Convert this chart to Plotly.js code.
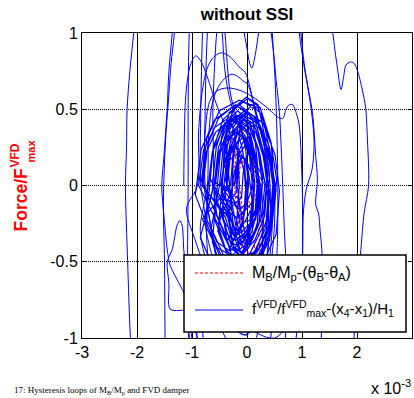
<!DOCTYPE html>
<html><head><meta charset="utf-8">
<script src="https://cdn.plot.ly/plotly-3.0.1.min.js"></script>
<style>html,body{margin:0;padding:0;background:#fff;} #chart{width:414px;height:398px;}</style>
</head><body><div id="chart"></div>
<script>
// x values are drift (x-axis shown in units of 1e-3), y values are normalized force
const xTickVals = [-3, -2, -1, 0, 1, 2, 3];
const xTickText = ['-3', '-2', '-1', '0', '1', '2', '3'];
const yTickVals = [-1, -0.5, 0, 0.5, 1];
const yTickText = ['-1', '-0.5', '0', '0.5', '1'];

// red dashed: MB/Mp vs (thetaB - thetaA)
const redX = [0.00,0.10,0.20,0.25,0.22,0.12,-0.05,-0.20,-0.28,-0.25,-0.15,0.00,0.15,0.28,0.30,0.22,0.08,-0.10,-0.22,-0.20,-0.10,0.05,0.18,0.25,0.20,0.10,-0.05,-0.15,-0.10,0.00];
const redY = [0.00,-0.30,-0.60,-0.80,-0.90,-0.70,-0.40,0.00,0.30,0.42,0.45,0.35,0.10,-0.30,-0.65,-0.85,-0.75,-0.40,-0.05,0.25,0.38,0.20,-0.15,-0.50,-0.72,-0.60,-0.30,0.05,0.20,0.00];

// blue: dense central loops
const coreLoopsX = [
 -0.23,-0.19,-0.15,-0.04,0.05,0.10,0.14,0.09,0.05,-0.06,-0.13,-0.22,
 -0.38,-0.35,-0.23,-0.11,0.05,0.13,0.19,0.15,0.03,-0.09,-0.25,-0.33,
 -0.47,-0.41,-0.31,-0.11,0.06,0.17,0.24,0.19,0.04,-0.13,-0.28,-0.43,
 -0.45,-0.40,-0.24,-0.06,0.16,0.28,0.36,0.30,0.14,-0.04,-0.26,-0.39,
 -0.63,-0.56,-0.42,-0.17,0.05,0.20,0.28,0.22,0.03,-0.19,-0.39,-0.58,
 -0.60,-0.54,-0.34,-0.11,0.16,0.32,0.41,0.34,0.14,-0.09,-0.36,-0.52,
 -0.44,-0.37,-0.24,-0.01,0.20,0.33,0.41,0.35,0.18,-0.03,-0.22,-0.39,
 -0.80,-0.71,-0.52,-0.21,0.08,0.27,0.37,0.29,0.06,-0.23,-0.50,-0.73,
 -0.72,-0.63,-0.42,-0.09,0.22,0.42,0.53,0.44,0.20,-0.11,-0.40,-0.65,
 -0.50,-0.42,-0.26,0.01,0.24,0.44,0.49,0.42,0.26,-0.01,-0.24,-0.44,
 -0.83,-0.73,-0.50,-0.14,0.20,0.43,0.54,0.45,0.18,-0.16,-0.48,-0.75,
 -0.94,-0.83,-0.59,-0.21,0.15,0.39,0.51,0.41,0.13,-0.23,-0.57,-0.85,
 -0.60,-0.52,-0.34,-0.04,0.23,0.41,0.51,0.43,0.21,-0.06,-0.31,-0.53,
 -0.88,-0.79,-0.59,-0.27,0.03,0.23,0.33,0.25,0.01,-0.29,-0.57,-0.81,
 -0.37,-0.30,-0.17,0.06,0.27,0.40,0.48,0.42,0.25,0.04,-0.15,-0.32,
 -0.42,-0.37,-0.27,-0.09,0.07,0.17,0.23,0.18,0.05,-0.11,-0.25,-0.38,
 -0.68,-0.61,-0.45,-0.19,0.05,0.21,0.29,0.22,0.03,-0.21,-0.43,-0.62,
 -0.30,-0.24,-0.12,0.09,0.28,0.40,0.47,0.41,0.26,0.07,-0.10,-0.25,
 -0.82,-0.74,-0.57,-0.29,-0.03,0.14,0.23,0.16,-0.05,-0.31,-0.55,-0.76,
 -0.70,-0.62,-0.44,-0.14,0.13,0.31,0.41,0.33,0.12,-0.16,-0.41,-0.63,
 -0.53,-0.46,-0.32,-0.07,0.15,0.30,0.38,0.32,0.14,-0.09,-0.29,-0.48,
 -0.60,-0.54,-0.41,-0.19,0.01,0.14,0.21,0.15,-0.01,-0.21,-0.39,-0.55,
 -0.60,-0.51,-0.31,0.01,0.29,0.51,0.59,0.53,0.31,-0.01,-0.29,-0.53,
 -0.37,-0.33,-0.25,-0.11,0.01,0.09,0.14,0.10,0.00,-0.13,-0.24,-0.34
];
const coreLoopsY = [
 0.00,0.14,0.20,0.26,0.21,0.13,0.01,-0.12,-0.23,-0.24,-0.21,-0.11,
 0.02,0.21,0.31,0.38,0.33,0.18,0.03,-0.16,-0.27,-0.34,-0.29,-0.14,
 -0.03,0.19,0.32,0.40,0.34,0.17,-0.02,-0.25,-0.38,-0.46,-0.40,-0.23,
 0.03,0.24,0.36,0.44,0.37,0.24,0.02,-0.18,-0.31,-0.38,-0.32,-0.16,
 0.00,0.25,0.40,0.49,0.42,0.23,0.01,-0.25,-0.41,-0.49,-0.42,-0.23,
 -0.05,0.18,0.33,0.41,0.35,0.16,-0.04,-0.28,-0.43,-0.51,-0.45,-0.27,
 0.05,0.33,0.51,0.58,0.53,0.31,0.06,-0.23,-0.42,-0.51,-0.43,-0.21,
 0.00,0.27,0.44,0.53,0.45,0.25,0.01,-0.27,-0.44,-0.53,-0.46,-0.25,
 -0.04,0.22,0.38,0.47,0.40,0.20,-0.03,-0.30,-0.46,-0.55,-0.48,-0.28,
 0.00,0.30,0.49,0.57,0.51,0.28,0.01,-0.30,-0.49,-0.59,-0.50,-0.28,
 0.03,0.31,0.49,0.56,0.51,0.29,0.04,-0.25,-0.44,-0.53,-0.45,-0.24,
 -0.06,0.24,0.43,0.53,0.45,0.22,-0.05,-0.36,-0.55,-0.65,-0.57,-0.34,
 0.00,0.25,0.41,0.49,0.40,0.25,0.00,-0.23,-0.42,-0.47,-0.41,-0.25,
 0.00,0.23,0.38,0.46,0.39,0.21,0.01,-0.23,-0.38,-0.46,-0.40,-0.22,
 -0.03,0.20,0.34,0.42,0.36,0.18,-0.02,-0.26,-0.40,-0.48,-0.42,-0.24,
 0.00,0.16,0.25,0.31,0.26,0.14,0.01,-0.16,-0.25,-0.31,-0.27,-0.14,
 0.05,0.26,0.39,0.46,0.40,0.24,0.06,-0.16,-0.29,-0.36,-0.30,-0.14,
 0.00,0.27,0.44,0.53,0.46,0.25,0.01,-0.27,-0.44,-0.53,-0.46,-0.25,
 0.00,0.22,0.35,0.43,0.37,0.20,0.01,-0.22,-0.36,-0.43,-0.37,-0.20,
 -0.08,0.23,0.43,0.53,0.45,0.21,-0.07,-0.39,-0.59,-0.69,-0.61,-0.37,
 0.06,0.32,0.48,0.55,0.50,0.30,0.07,-0.20,-0.36,-0.45,-0.38,-0.18,
 -0.02,0.17,0.28,0.35,0.30,0.15,-0.01,-0.21,-0.32,-0.39,-0.34,-0.19,
 -0.05,0.22,0.39,0.48,0.41,0.20,-0.04,-0.32,-0.49,-0.58,-0.51,-0.30,
 0.00,0.23,0.38,0.46,0.40,0.22,0.01,-0.23,-0.38,-0.46,-0.40,-0.22
];

// blue: the smallest loops in the very centre
const innerLoopsX = [
 -0.27,-0.25,-0.22,-0.14,-0.09,-0.05,-0.02,-0.05,-0.08,-0.16,-0.20,-0.26,
 -0.40,-0.36,-0.31,-0.19,-0.11,-0.02,0.01,-0.03,-0.09,-0.21,-0.29,-0.38,
 -0.20,-0.17,-0.13,-0.04,0.03,0.07,0.11,0.08,0.02,-0.06,-0.12,-0.19,
 -0.47,-0.43,-0.37,-0.24,-0.15,-0.05,-0.02,-0.07,-0.13,-0.26,-0.35,-0.45,
 -0.20,-0.16,-0.11,0.01,0.11,0.16,0.21,0.18,0.09,-0.01,-0.09,-0.18,
 -0.48,-0.43,-0.34,-0.17,-0.04,0.07,0.13,0.09,-0.02,-0.19,-0.32,-0.45,
 -0.28,-0.25,-0.20,-0.09,0.00,0.05,0.09,0.06,-0.02,-0.11,-0.18,-0.26,
 -0.34,-0.30,-0.24,-0.11,-0.02,0.06,0.11,0.08,0.00,-0.13,-0.22,-0.32,
 -0.45,-0.42,-0.38,-0.29,-0.23,-0.16,-0.14,-0.18,-0.22,-0.31,-0.37,-0.44,
 -0.10,-0.07,-0.03,0.06,0.13,0.17,0.21,0.19,0.12,0.04,-0.02,-0.09,
 -0.18,-0.16,-0.14,-0.07,-0.03,0.01,0.03,0.00,-0.02,-0.09,-0.12,-0.17,
 -0.57,-0.51,-0.40,-0.21,-0.05,0.07,0.14,0.09,-0.06,-0.23,-0.38,-0.53
];
const innerLoopsY = [
 0.00,0.16,0.25,0.31,0.25,0.16,0.01,-0.16,-0.25,-0.31,-0.27,-0.14,
 0.05,0.25,0.37,0.44,0.38,0.23,0.06,-0.15,-0.27,-0.34,-0.28,-0.13,
 -0.05,0.13,0.24,0.31,0.25,0.12,-0.04,-0.23,-0.34,-0.41,-0.36,-0.22,
 -0.05,0.11,0.20,0.26,0.22,0.09,-0.04,-0.21,-0.30,-0.36,-0.32,-0.19,
 0.05,0.27,0.40,0.48,0.42,0.25,0.06,-0.17,-0.30,-0.38,-0.32,-0.15,
 0.00,0.11,0.16,0.21,0.18,0.09,0.01,-0.11,-0.16,-0.21,-0.18,-0.09,
 -0.10,0.05,0.13,0.19,0.15,0.03,-0.09,-0.25,-0.33,-0.39,-0.35,-0.23,
 0.10,0.23,0.31,0.36,0.32,0.21,0.11,-0.03,-0.11,-0.16,-0.12,-0.02,
 0.00,0.21,0.34,0.41,0.35,0.19,0.01,-0.21,-0.34,-0.41,-0.35,-0.19,
 -0.08,0.08,0.17,0.23,0.19,0.06,-0.07,-0.24,-0.33,-0.39,-0.35,-0.22,
 0.00,0.10,0.15,0.19,0.16,0.08,0.01,-0.10,-0.15,-0.19,-0.16,-0.08,
 0.02,0.19,0.29,0.35,0.30,0.17,0.03,-0.15,-0.25,-0.31,-0.26,-0.13
];

// blue: skewed loops with visible peaks
const skewLoopsX = [
 -1.15,-1.14,-1.12,-1.08,-1.02,-0.93,-0.83,-0.75,-0.70,-0.62,-0.50,-0.30,0.00,0.30,0.45,0.42,0.30,0.10,-0.15,-0.45,-0.75,-0.95,-1.10,
 -0.90,-0.88,-0.82,-0.74,-0.67,-0.58,-0.47,-0.33,-0.22,-0.15,-0.03,0.05,0.15,0.30,0.48,0.50,0.40,0.20,-0.05,-0.35,-0.65,-0.85,
 -0.72,-0.70,-0.65,-0.60,-0.50,-0.38,-0.27,-0.15,-0.05,0.00,0.08,0.20,0.35,0.42,0.40,0.28,0.05,-0.25,-0.50,-0.66,
 -0.78,-0.76,-0.68,-0.55,-0.35,-0.10,0.15,0.40,0.55,0.65,0.71,0.77,0.83,0.90,0.95,0.99,1.01,1.01,0.97,0.80,0.50,0.10,-0.30,-0.60,-0.75
];
const skewLoopsY = [
 0.00,0.30,0.55,0.70,0.80,0.85,0.81,0.74,0.69,0.60,0.48,0.33,0.15,0.02,-0.15,-0.45,-0.75,-0.92,-0.95,-0.80,-0.55,-0.35,-0.15,
 0.00,0.35,0.60,0.75,0.81,0.85,0.87,0.85,0.81,0.78,0.74,0.65,0.48,0.28,0.05,-0.25,-0.60,-0.88,-0.98,-0.88,-0.60,-0.30,
 0.00,0.30,0.50,0.58,0.66,0.71,0.73,0.71,0.68,0.67,0.60,0.42,0.20,0.00,-0.35,-0.65,-0.85,-0.80,-0.55,-0.25,
 0.00,0.35,0.55,0.62,0.64,0.62,0.57,0.50,0.45,0.44,0.50,0.53,0.53,0.47,0.39,0.15,-0.10,-0.40,-0.65,-0.88,-1.00,-0.95,-0.80,-0.50,-0.25
];

// blue: loops whose tops leave the plot
const archLoopsX = [
 -0.62,-0.62,-0.58,-0.55,-0.47,-0.40,-0.36,-0.30,-0.15,0.05,0.25,0.28,0.20,0.00,-0.30,-0.55,
 -0.76,-0.76,-0.72,-0.62,-0.52,-0.45,-0.40,-0.30,-0.10,0.15,0.35,0.38,0.30,0.10,-0.20,-0.50,-0.70,-0.76,
 -0.84,-0.84,-0.81,-0.75,0.00,0.38,0.46,0.51,0.54,0.56,0.55,0.48,0.40,0.20,-0.70,-0.80,-0.84
];
const archLoopsY = [
 0.00,0.50,0.85,1.00,1.20,1.00,0.80,0.60,0.40,0.20,0.00,-0.40,-0.75,-0.98,-0.90,-0.50,
 0.00,0.50,1.00,1.40,1.35,1.00,0.75,0.55,0.35,0.15,0.00,-0.40,-0.75,-1.05,-1.10,-0.90,-0.50,-0.20,
 0.00,0.50,1.00,1.60,1.90,1.60,1.00,0.70,0.40,0.00,-0.40,-0.80,-1.10,-1.60,-1.60,-1.00,-0.50
];

// blue: the widest loops
const wideLoopsX = [
 -1.00,-1.06,-1.08,-1.07,-1.07,-1.05,-0.95,-0.40,-0.12,-0.05,0.00,0.05,0.09,0.13,0.17,0.23,0.33,0.41,0.44,0.49,0.53,0.59,0.62,0.65,0.68,0.72,0.70,0.60,-0.50,
 -1.47,-1.49,-1.50,-1.52,-1.48,-1.42,-1.38,-1.32,-1.20,-0.30,0.80,0.95,1.03,1.16,1.22,1.18,1.08,1.02,1.01,0.95,0.85,0.50,-0.60,
 -0.90,-1.15,-1.24,-1.40,-1.42,-1.45,-1.36,-1.27,-1.22,-1.18,-1.15,-1.13,-1.10,-1.05,-0.90,
 -0.85,-0.95,-1.13,-1.18,-1.31,-1.40,-1.45,-1.51,-1.55,-1.51,-1.48,-1.45,-1.42,-1.36,-1.25,-0.20,0.85,0.98,1.04,1.12,1.19,1.23,1.25,1.28,1.25,1.30,1.33,1.36,1.38,1.35,1.28,0.00,
 -2.00,-2.12,-2.17,-2.21,-2.19,-2.18,-2.13,-2.06,-1.98,-1.85,0.00,1.35,1.48,1.56,1.64,1.71,1.76,1.80,1.88,1.95,2.02,2.07,2.13,2.16,2.19,2.21,2.13,2.07,1.98,1.90,1.70,0.00
];
const wideLoopsY = [
 -1.60,-1.00,-0.50,0.00,0.50,1.00,1.60,1.80,1.30,1.00,0.90,0.80,0.77,0.82,0.90,1.05,1.25,1.10,1.00,0.85,0.69,0.48,0.26,0.00,-0.30,-0.60,-1.00,-1.60,-1.80,
 -1.60,-1.00,-0.50,-0.10,0.30,0.60,0.80,1.00,1.60,2.00,1.60,1.00,0.80,0.52,0.28,0.10,-0.02,-0.20,-0.50,-0.80,-1.10,-1.60,-1.60,
 -1.00,-0.82,-0.82,-0.81,-0.64,-0.50,-0.42,-0.26,-0.23,-0.26,-0.42,-0.49,-0.70,-1.00,-1.60,
 -1.60,-1.15,-0.72,-0.68,-0.59,-0.52,-0.42,-0.20,0.00,0.19,0.35,0.51,0.75,1.00,1.60,2.00,1.60,1.00,0.80,0.62,0.48,0.30,0.19,0.04,-0.13,-0.18,-0.30,-0.42,-0.70,-1.00,-1.60,-2.00,
 -1.70,-1.00,-0.50,0.00,0.25,0.50,0.75,1.00,1.30,1.60,2.00,1.60,1.25,1.00,0.78,0.63,0.72,0.79,0.81,0.80,0.74,0.67,0.57,0.50,0.30,0.00,-0.18,-0.42,-0.80,-1.20,-1.60,-2.00
];

const redName = 'M<sub>B</sub>/M<sub>p</sub>-(θ<sub>B</sub>-θ<sub>A</sub>)';
const blueName = 'f<sup>VFD</sup>/f<sup>VFD</sup><sub>max</sub>-(x<sub>4</sub>-x<sub>1</sub>)/H<sub>1</sub>';

const centreX = coreLoopsX.concat(innerLoopsX);
const centreY = coreLoopsY.concat(innerLoopsY);
const outerX = skewLoopsX.concat(archLoopsX, wideLoopsX);
const outerY = skewLoopsY.concat(archLoopsY, wideLoopsY);

const FONT = '"Liberation Sans", Arial, Helvetica, sans-serif';
const L = 82, T = 33, W = 330, H = 305;
const px = p => (p - L) / W;
const py = p => (T + H - p) / H;

const traces = [
  {x: redX, y: redY, type: 'scatter', mode: 'lines', name: redName,
   line: {color: '#ff0000', width: 1, dash: '3px,2px'}, hoverinfo: 'skip'},
  {x: centreX, y: centreY, type: 'scatter', mode: 'lines', name: blueName,
   line: {color: '#0000ff', width: 1.2}, hoverinfo: 'skip'},
  {x: outerX, y: outerY, type: 'scatter', mode: 'lines', name: blueName,
   line: {color: '#0000ff', width: 1, shape: 'spline', smoothing: 0.9}, hoverinfo: 'skip'}
];

const axisCommon = {
  ticks: 'inside', ticklen: 4, tickcolor: '#000', tickwidth: 1,
  showline: true, linecolor: '#000', linewidth: 1, mirror: 'ticks',
  showgrid: true, gridcolor: '#000', gridwidth: 1, zeroline: false,
  tickfont: {family: FONT, size: 16, color: '#000'}, fixedrange: true
};

const layout = {
  width: 414, height: 398,
  margin: {l: L, r: 414 - L - W, t: T, b: 398 - T - H, pad: 0},
  paper_bgcolor: '#fff', plot_bgcolor: '#fff',
  showlegend: false,
  title: {text: '<b>without SSI</b>', font: {family: FONT, size: 17, color: '#000'},
          x: 0.5, xref: 'paper', xanchor: 'center', y: 1 - 14 / 398, yref: 'container', yanchor: 'middle'},
  xaxis: Object.assign({}, axisCommon, {range: [-3, 3], tickvals: xTickVals, ticktext: xTickText, griddash: 'solid'}),
  yaxis: Object.assign({}, axisCommon, {range: [-1, 1], tickvals: yTickVals, ticktext: yTickText, griddash: '1px,1px'}),
  shapes: [
    {type: 'rect', xref: 'paper', yref: 'paper', x0: px(184), x1: px(406), y0: py(332), y1: py(255),
     fillcolor: '#fff', line: {color: '#000', width: 1.5}, layer: 'above'},
    {type: 'line', xref: 'paper', yref: 'paper', x0: px(195), x1: px(243), y0: py(273), y1: py(273),
     line: {color: '#ff0000', width: 1, dash: '3px,2px'}, layer: 'above'},
    {type: 'line', xref: 'paper', yref: 'paper', x0: px(195), x1: px(243), y0: py(310), y1: py(310),
     line: {color: '#0000ff', width: 1}, layer: 'above'}
  ],
  annotations: [
    {text: redName, xref: 'paper', yref: 'paper', x: px(250), y: py(273), xanchor: 'left', yanchor: 'middle',
     showarrow: false, font: {family: FONT, size: 16, color: '#000'}},
    {text: blueName, xref: 'paper', yref: 'paper', x: px(250), y: py(308), xanchor: 'left', yanchor: 'middle',
     showarrow: false, font: {family: FONT, size: 15, color: '#000'}},
    {text: '<b>Force/F</b>', textangle: -90, xref: 'paper', yref: 'paper', x: px(20.5), y: py(200),
     xanchor: 'center', yanchor: 'middle', showarrow: false, font: {family: FONT, size: 17.5, color: '#ff0000'}},
    {text: '<b>VFD</b>', textangle: -90, xref: 'paper', yref: 'paper', x: px(14.5), y: py(156),
     xanchor: 'center', yanchor: 'middle', showarrow: false, font: {family: FONT, size: 12, color: '#ff0000'}},
    {text: '<b>max</b>', textangle: -90, xref: 'paper', yref: 'paper', x: px(30.5), y: py(151),
     xanchor: 'center', yanchor: 'middle', showarrow: false, font: {family: FONT, size: 11, color: '#ff0000'}},
    {text: 'x 10<sup>-3</sup>', xref: 'paper', yref: 'paper', x: px(413), y: py(399), xanchor: 'right', yanchor: 'bottom',
     showarrow: false, font: {family: FONT, size: 16, color: '#000'}},
    {text: '17: Hysteresis loops of M<sub>B</sub>/M<sub>p</sub> and FVD damper', xref: 'paper', yref: 'paper',
     x: px(12), y: py(398), xanchor: 'left', yanchor: 'bottom', showarrow: false,
     font: {family: '"Liberation Serif", "Times New Roman", serif', size: 9, color: '#000'}}
  ]
};

Plotly.newPlot('chart', traces, layout, {staticPlot: true, displayModeBar: false});
</script></body></html>
